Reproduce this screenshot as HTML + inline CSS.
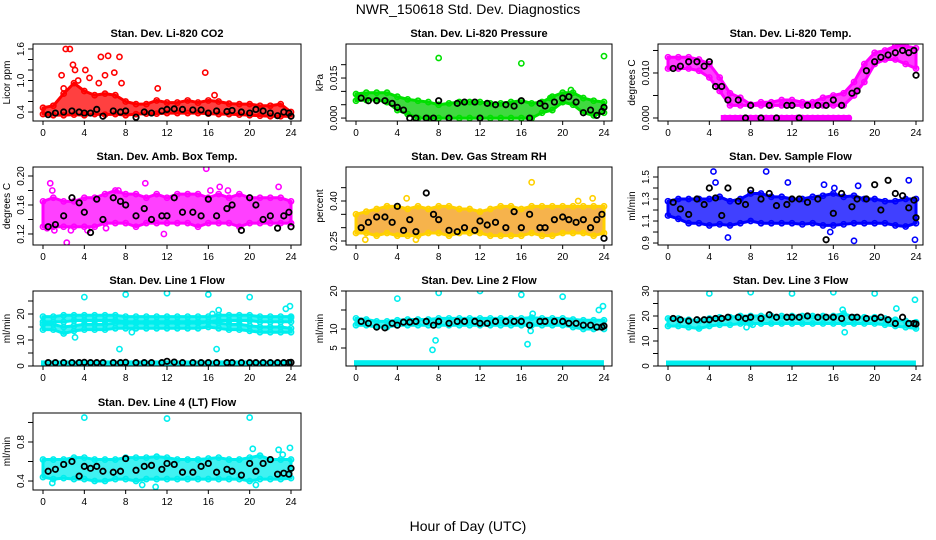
<!DOCTYPE html>
<html><head><meta charset="utf-8">
<style>
html,body{margin:0;padding:0;background:#fff;}
svg{display:block;font-family:"Liberation Sans",Arial,sans-serif;}
</style></head>
<body>
<svg id="chart" width="936" height="540" viewBox="0 0 936 540">
<text x="468" y="14" text-anchor="middle" font-size="14">NWR_150618 Std. Dev. Diagnostics</text>
<text x="468" y="531" text-anchor="middle" font-size="14">Hour of Day (UTC)</text>
</svg>
<script>
// ---- shared data ----
const hours = [0,1,2,3,4,5,6,7,8,9,10,11,12,13,14,15,16,17,18,19,20,21,22,23,24];
const blackTimes = [0.5,1.2,2,2.8,3.5,4,4.6,5.2,5.8,6.8,7.5,8,9,9.8,10.5,11.5,12,12.7,13.5,14.5,15.3,16,16.8,17.8,18.3,19.2,20,20.6,21.3,22,22.7,23.3,23.8,24];
const xTicks = [0,4,8,12,16,20,24];

// CO2
const co2Lo = [0.36,0.34,0.34,0.35,0.34,0.36,0.35,0.36,0.34,0.36,0.37,0.37,0.38,0.38,0.38,0.38,0.37,0.36,0.36,0.35,0.34,0.33,0.32,0.32,0.32];
const co2Hi = [0.48,0.52,0.75,0.95,0.8,0.72,0.75,0.72,0.6,0.55,0.55,0.62,0.58,0.58,0.62,0.58,0.62,0.6,0.56,0.55,0.55,0.52,0.52,0.55,0.4];
const co2OutT = [1.8,2.2,2.6,2.9,3.1,4.1,4.5,5.4,5.6,6.0,6.3,6.9,7.4,7.6,11.1,15.7,16.6,3.4,2.0];
const co2OutV = [1.1,1.6,1.6,1.3,1.2,1.2,1.05,0.95,1.45,1.1,1.47,1.15,1.45,0.95,0.85,1.15,0.72,1.0,0.85];
const co2Black = [0.35,0.38,0.4,0.42,0.4,0.38,0.38,0.45,0.32,0.42,0.4,0.42,0.3,0.4,0.38,0.42,0.45,0.46,0.45,0.44,0.44,0.38,0.42,0.41,0.43,0.4,0.38,0.45,0.42,0.38,0.33,0.4,0.38,0.32];
// Pressure
const presLo = [0.0065,0.0068,0.0068,0.006,0.003,0.0015,0,0,0,0,0,0,0,0,0,0,0,0,0.002,0.003,0.006,0.005,0.002,0.001,0.002];
const presHi = [0.009,0.0095,0.0095,0.0095,0.008,0.007,0.0065,0.006,0.005,0.0055,0.006,0.006,0.006,0.0055,0.0055,0.006,0.0065,0.0055,0.006,0.008,0.0095,0.0095,0.0075,0.0065,0.006];
const presOutT = [8,16,24,20.8,18.8];
const presOutV = [0.0225,0.0205,0.0232,0.0105,0.0075];
const presBlack = [0.0075,0.0065,0.0065,0.0065,0.0055,0.004,0.003,0,0,0,0,0.0065,0,0.0055,0.006,0.006,0,0.0055,0.005,0.005,0.0045,0.0065,0,0.0055,0.0045,0.006,0.0075,0.008,0.006,0.002,0.003,0.001,0.0025,0.004];
// Li-820 Temp
const tempLo = [0.011,0.011,0.011,0.0105,0.009,0.006,0.0028,0.0028,0.0028,0.0028,0.0028,0.0028,0.0028,0.0028,0.0028,0.0028,0.0028,0.0028,0.005,0.008,0.012,0.013,0.013,0.012,0.011];
const tempHi = [0.0135,0.0135,0.0135,0.013,0.012,0.009,0.0055,0.0045,0.003,0.0035,0.0035,0.004,0.004,0.0035,0.0035,0.0045,0.005,0.0055,0.008,0.012,0.0145,0.015,0.016,0.016,0.0155];
const tempOutT = [5.5,6,6.5,7,7.5,8,8.5,9,9.5,10,10.5,11,11.5,12,12.5,13,13.5,14,14.5,15,15.5,16,16.5,17,17.5];
const tempOutV = [0,0,0,0,0,0,0,0,0,0,0,0,0,0,0,0,0,0,0,0,0,0,0,0,0];
const tempZeroStart = [5.3];
const tempZeroEnd = [17.5];
const tempBlack = [0.011,0.0115,0.0125,0.0125,0.0115,0.0125,0.007,0.007,0.004,0.004,0,0.0028,0,0.0028,0,0.0028,0.0028,0,0.0028,0.0028,0.0028,0.004,0.0028,0.0055,0.006,0.0105,0.0125,0.0135,0.014,0.0145,0.015,0.0145,0.015,0.0095];
// Amb box temp
const ambLo = [0.13,0.13,0.13,0.13,0.13,0.13,0.135,0.135,0.135,0.13,0.135,0.135,0.135,0.135,0.135,0.13,0.135,0.135,0.135,0.13,0.135,0.135,0.135,0.135,0.135];
const ambHi = [0.165,0.17,0.165,0.165,0.17,0.17,0.175,0.18,0.175,0.175,0.17,0.175,0.17,0.175,0.175,0.175,0.17,0.175,0.17,0.175,0.17,0.17,0.17,0.17,0.165];
const ambOutT = [0.7,0.9,1.1,2.3,2.7,4.3,7.3,9.9,11.7,15.8,16.2,17.1,17.9,22.8,0.4,6.1];
const ambOutV = [0.19,0.18,0.125,0.108,0.125,0.125,0.18,0.19,0.12,0.21,0.18,0.185,0.18,0.185,0.128,0.128];
const ambBlack = [0.13,0.133,0.145,0.17,0.163,0.15,0.122,0.168,0.14,0.17,0.165,0.16,0.145,0.155,0.14,0.145,0.145,0.17,0.15,0.15,0.145,0.168,0.145,0.155,0.16,0.125,0.17,0.16,0.14,0.145,0.128,0.145,0.15,0.13];
// Gas stream RH
const rhLo = [0.28,0.28,0.27,0.28,0.27,0.27,0.27,0.28,0.28,0.27,0.28,0.28,0.28,0.27,0.27,0.27,0.27,0.28,0.27,0.27,0.28,0.28,0.28,0.27,0.28];
const rhHi = [0.35,0.36,0.37,0.38,0.38,0.37,0.38,0.37,0.38,0.38,0.37,0.37,0.36,0.37,0.38,0.38,0.37,0.38,0.38,0.38,0.38,0.38,0.38,0.38,0.38];
const rhOutT = [0.9,3.0,4.9,5.8,17.0,22.9,21.5];
const rhOutV = [0.255,0.38,0.41,0.255,0.47,0.41,0.4];
const rhBlack = [0.3,0.32,0.34,0.34,0.32,0.38,0.29,0.33,0.285,0.43,0.35,0.33,0.29,0.285,0.3,0.29,0.325,0.31,0.32,0.3,0.36,0.3,0.35,0.3,0.3,0.33,0.34,0.33,0.32,0.33,0.3,0.33,0.35,0.26];
// Sample flow
const sfLo = [1.15,1.12,1.08,1.08,1.06,1.07,1.06,1.08,1.1,1.08,1.08,1.08,1.08,1.07,1.08,1.06,1.06,1.07,1.08,1.08,1.08,1.08,1.06,1.05,1.08];
const sfHi = [1.28,1.3,1.3,1.3,1.3,1.32,1.28,1.3,1.35,1.35,1.32,1.32,1.3,1.3,1.32,1.33,1.35,1.32,1.33,1.3,1.3,1.28,1.28,1.3,1.3];
const sfOutT = [4.4,4.6,5.8,9.5,11.6,15.1,15.7,18,18.4,23.3,23.9,16.1];
const sfOutV = [1.55,1.45,0.95,1.55,1.45,1.43,1.0,0.92,1.42,1.47,0.93,1.4];
const sfBlack = [1.27,1.21,1.16,1.3,1.25,1.4,1.31,1.15,1.4,1.28,1.25,1.38,1.3,1.35,1.24,1.25,1.3,1.3,1.27,1.3,0.93,1.17,1.35,1.23,1.3,1.3,1.43,1.2,1.47,1.35,1.33,1.22,1.29,1.13];
// Line 1
const l1aLo = [17,17,17,17.5,17.5,17.5,17.5,17.5,17,17,17,17,17,17,17,17,17,17.5,17.5,17.5,17.5,17,17,17,17];
const l1aHi = [19,19,19.5,19.5,19.5,19.5,19.5,19.5,19,19,19,19,19,19,19,19,19,19.5,19.5,19.5,19.5,19,19,19,19];
const l1bLo = [14,14,12.5,13.5,14,14,14,14.5,14.5,14.5,14.5,14.5,14.5,14.5,14.5,14.5,15,14.5,14,14,13.5,13,13,13,13];
const l1bHi = [16,16,15,15.5,16,16,16,16.5,16.5,16.5,16.5,16.5,16.5,16.5,16.5,16.5,17,16.5,16,16,15.5,15,15,15,14.5];
const l1OutT = [4,8,12,16,20,3.1,7.4,8.6,16.8,23.5,23.9,24,17,16.4];
const l1OutV = [26.5,27.5,28,27.5,26.5,11,6.5,13,6.5,22,23,18.5,21.5,20];
const l1Black = [1.3,1.3,1.3,1.3,1.3,1.4,1.3,1.3,1.3,1.3,1.3,1.4,1.3,1.3,1.3,1.3,1.8,1.5,1.3,1.3,1.3,1.3,1.3,1.3,1.3,1.3,1.3,1.3,1.3,1.3,1.3,1.3,1.3,1.4];
// Line 2
const l2Lo = [11,11,10.5,10.5,11,11,11,11,11,11,11,11,11,11,11,11,11,11,11,11,11,10.5,10,10,10];
const l2Hi = [12.8,12.5,12,12,12.3,12.5,12.5,12.5,12.8,12.8,12.8,12.8,12.8,12.8,12.8,12.8,12.8,13,12.8,12.8,12.8,12.5,12.3,12.3,12.3];
const l2OutT = [4,8,12,16,20,16.6,17.1,23.5,23.9,7.4,7.7,16.9];
const l2OutV = [18,19.5,20,19,18.5,6,14,15,16,4.5,7,9.5];
const l2Black = [12,11.5,10.5,10.3,11.5,11,11.8,11.8,12,12,11,12,11.5,12,12,12,11.5,11.5,12,12,12,12,11,12,12,12,12,11.5,11.5,11,11,10.5,10.5,10.8];
// Line 3
const l3Lo = [16,16,15.5,15,16,16.5,16.5,17,17,17,17,17,17,17,17,17,17,17,17,17,17,16.5,16,15.5,15];
const l3Hi = [19,19,18.5,18,19,19.5,19.5,20,20,20,20,20,20,20,20,20,20,21,19.5,19.5,19.5,19,18.5,18,17.5];
const l3OutT = [4,8,12,16,20,17.1,22.1,23.9,7.6,16.9,8.2];
const l3OutV = [29,29.5,29,29.5,29,13.5,23,26.5,15.5,22.5,16.5];
const l3Black = [19,18.5,18,18.5,18.5,18.5,19,19,19.5,19.5,19,19.5,19,20.5,19.5,19.5,19.5,19.5,20,19.5,19.5,19.5,19,19.5,19.5,19,19,19.5,18.5,17,19.5,17,17,16.8];
// Line 4
const l4Lo = [0.44,0.42,0.43,0.42,0.42,0.4,0.4,0.42,0.42,0.4,0.42,0.42,0.42,0.42,0.42,0.42,0.42,0.42,0.42,0.42,0.4,0.42,0.42,0.42,0.43];
const l4Hi = [0.62,0.62,0.62,0.64,0.64,0.62,0.62,0.62,0.64,0.64,0.64,0.65,0.64,0.62,0.62,0.62,0.63,0.64,0.62,0.62,0.64,0.66,0.62,0.62,0.62];
const l4OutT = [4,12,20,20.3,22.8,23.2,23.9,0.9,9.6,10.9,20.6];
const l4OutV = [1.05,1.04,1.05,0.73,0.72,0.67,0.74,0.38,0.36,0.34,0.36];
const l4Black = [0.5,0.52,0.57,0.6,0.45,0.55,0.53,0.55,0.5,0.49,0.5,0.63,0.51,0.55,0.56,0.52,0.58,0.57,0.49,0.49,0.55,0.58,0.49,0.52,0.5,0.46,0.58,0.5,0.58,0.62,0.47,0.48,0.47,0.53];

const NS = 'http://www.w3.org/2000/svg';
const svg = document.getElementById('chart');
const colLeft = [33, 346, 658], colRight = [301, 612, 923];
const rowTop = [44, 167, 291, 413], rowBot = [121, 245, 366, 490];

const panels = [
 {id:'co2', title:'Stan. Dev. Li-820 CO2', ylab:'Licor ppm', c:0,r:0, ymin:0.229,ymax:1.695, ticks:[0.4,0.6,0.8,1.0,1.2,1.4,1.6], labels:['0.4','1.0','1.6'], col:'#ff0000', fill:'#ff0000', bands:[[co2Lo,co2Hi]], outT:co2OutT,outV:co2OutV, black:co2Black},
 {id:'pressure', title:'Stan. Dev. Li-820 Pressure', ylab:'kPa', c:1,r:0, ymin:-0.0011,ymax:0.02775, ticks:[0,0.005,0.01,0.015,0.02], labels:['0.000','0.015'], col:'#00e000', fill:'#00cc00', bands:[[presLo,presHi]], outT:presOutT,outV:presOutV, black:presBlack},
 {id:'li820-temp', title:'Stan. Dev. Li-820 Temp.', ylab:'degrees C', c:2,r:0, ymin:-0.00067,ymax:0.01644, ticks:[0,0.005,0.01,0.015], labels:['0.000','0.010'], col:'#ff00ff', fill:'#ff00ff', bands:[[tempLo,tempHi]], base:0, baseStart:tempZeroStart[0], baseEnd:tempZeroEnd[0], outT:tempOutT,outV:tempOutV, black:tempBlack},
 {id:'amb-box-temp', title:'Stan. Dev. Amb. Box Temp.', ylab:'degrees C', c:0,r:1, ymin:0.1048,ymax:0.2124, ticks:[0.12,0.14,0.16,0.18,0.2], labels:['0.12','0.16','0.20'], col:'#ff00ff', fill:'#ff00ff', bands:[[ambLo,ambHi]], outT:ambOutT,outV:ambOutV, black:ambBlack},
 {id:'gas-stream-rh', title:'Stan. Dev. Gas Stream RH', ylab:'percent', c:1,r:1, ymin:0.235,ymax:0.5275, ticks:[0.25,0.3,0.35,0.4,0.45], labels:['0.25','0.40'], col:'#ffd000', fill:'#f39a10', bands:[[rhLo,rhHi]], outT:rhOutT,outV:rhOutV, black:rhBlack},
 {id:'sample-flow', title:'Stan. Dev. Sample Flow', ylab:'ml/min', c:2,r:1, ymin:0.882,ymax:1.591, ticks:[0.9,1.0,1.1,1.2,1.3,1.4,1.5], labels:['0.9','1.1','1.3','1.5'], col:'#0000ff', fill:'#0000ff', bands:[[sfLo,sfHi]], outT:sfOutT,outV:sfOutV, black:sfBlack},
 {id:'line1-flow', title:'Stan. Dev. Line 1 Flow', ylab:'ml/min', c:0,r:2, ymin:0,ymax:28.85, ticks:[0,5,10,15,20,25], labels:['0','10','20'], col:'#00eeee', fill:'#00eeee', bands:[[l1aLo,l1aHi],[l1bLo,l1bHi]], base:1, outT:l1OutT,outV:l1OutV, black:l1Black},
 {id:'line2-flow', title:'Stan. Dev. Line 2 Flow', ylab:'ml/min', c:1,r:2, ymin:0.26,ymax:20, ticks:[5,10,15,20], labels:['5','10','20'], col:'#00eeee', fill:'#00eeee', bands:[[l2Lo,l2Hi]], base:1, outT:l2OutT,outV:l2OutV, black:l2Black},
 {id:'line3-flow', title:'Stan. Dev. Line 3 Flow', ylab:'ml/min', c:2,r:2, ymin:0,ymax:30, ticks:[0,5,10,15,20,25,30], labels:['0','10','20','30'], col:'#00eeee', fill:'#00eeee', bands:[[l3Lo,l3Hi]], base:1, outT:l3OutT,outV:l3OutV, black:l3Black},
 {id:'line4-flow', title:'Stan. Dev. Line 4 (LT) Flow', ylab:'ml/min', c:0,r:3, ymin:0.308,ymax:1.097, ticks:[0.4,0.6,0.8,1.0], labels:['0.4','0.8'], col:'#00eeee', fill:'#00eeee', bands:[[l4Lo,l4Hi]], outT:l4OutT,outV:l4OutV, black:l4Black}
];

function mk(tag, attrs, parent){
  const e = document.createElementNS(NS, tag);
  for (const k in attrs) e.setAttribute(k, attrs[k]);
  (parent||svg).appendChild(e);
  return e;
}

panels.forEach(p => {
  const L = colLeft[p.c], R = colRight[p.c], T = rowTop[p.r], B = rowBot[p.r];
  const x0 = L + 10, xs = 248;
  const X = h => x0 + h / 24 * xs;
  const Y = v => B - (v - p.ymin) / (p.ymax - p.ymin) * (B - T);
  const g = mk('g', {});
  
  

  const title = mk('text', {x:(L+R)/2, y:T-7, 'text-anchor':'middle', 'font-size':'11', 'font-weight':'bold'}, g);
  title.textContent = p.title;
  
  

  const cid = 'clip-' + p.id;
  const cp = mk('clipPath', {id:cid}, g);
  mk('rect', {x:L, y:T, width:R-L, height:B-T}, cp);
  const dg = mk('g', {'clip-path':'url(#'+cid+')'}, g);
  
  

  p.bands.forEach(([lo, hi]) => {
    let pts = hours.map((h,i) => X(h)+','+Y(hi[i]));
    pts = pts.concat(hours.slice().reverse().map((h,j) => { const i = hours.length-1-j; return X(h)+','+Y(lo[i]); }));
    const poly = mk('polygon', {points:pts.join(' '), fill:p.fill, 'fill-opacity':'0.75', stroke:p.col, 'stroke-width':'3', 'stroke-linejoin':'round'}, dg);
    
    
    hours.forEach((h,i) => {
      [lo[i], hi[i]].forEach(v => {
        const c = mk('circle', {cx:X(h), cy:Y(v), r:2.6, fill:'none', stroke:p.col, 'stroke-width':1.6}, dg);
        
        
      });
    });
  });
  if (p.base !== undefined) {
    const bs = p.baseStart !== undefined ? p.baseStart : 0;
    const be = p.baseEnd !== undefined ? p.baseEnd : 23.8;
    const bl = mk('rect', {x:X(bs)-2, y:Y(p.base)-3, width:X(be)-X(bs)+4, height:6, fill:p.col}, dg);
    
    
  }
  p.outT.forEach((t,i) => {
    const c = mk('circle', {cx:X(t), cy:Y(p.outV[i]), r:2.6, fill:'none', stroke:p.col, 'stroke-width':1.6}, dg);
    
    
  });
  p.black.forEach((v,i) => {
    const c = mk('circle', {cx:X(blackTimes[i]), cy:Y(v), r:2.7, fill:'none', stroke:'#000', 'stroke-width':1.8}, dg);
    
    
  });

  const fr = mk('rect', {x:L, y:T, width:R-L, height:B-T, fill:'none', stroke:'#000', 'stroke-width':1}, g);
  
  

  const xa = mk('g', {}, g);
  
  
  xTicks.forEach(h => {
    mk('line', {x1:X(h), x2:X(h), y1:B, y2:B+4, stroke:'#000'}, xa);
    const t = mk('text', {x:X(h), y:B+15, 'text-anchor':'middle', 'font-size':'10'}, xa);
    t.textContent = h;
  });
  const ya = mk('g', {}, g);
  
  
  p.ticks.forEach(v => {
    mk('line', {x1:L-5, x2:L, y1:Y(v), y2:Y(v), stroke:'#000'}, ya);
  });
  p.labels.forEach(s => {
    const v = parseFloat(s);
    const t = mk('text', {x:0, y:0, 'text-anchor':'middle', 'font-size':'10', transform:'translate('+(L-9)+','+Y(v)+') rotate(-90)'}, ya);
    t.textContent = s;
  });
  const yl = mk('text', {x:0, y:0, 'text-anchor':'middle', 'font-size':'10', transform:'translate('+(L-23)+','+((T+B)/2)+') rotate(-90)'}, g);
  yl.textContent = p.ylab;
  
  
});
</script>
</body></html>
